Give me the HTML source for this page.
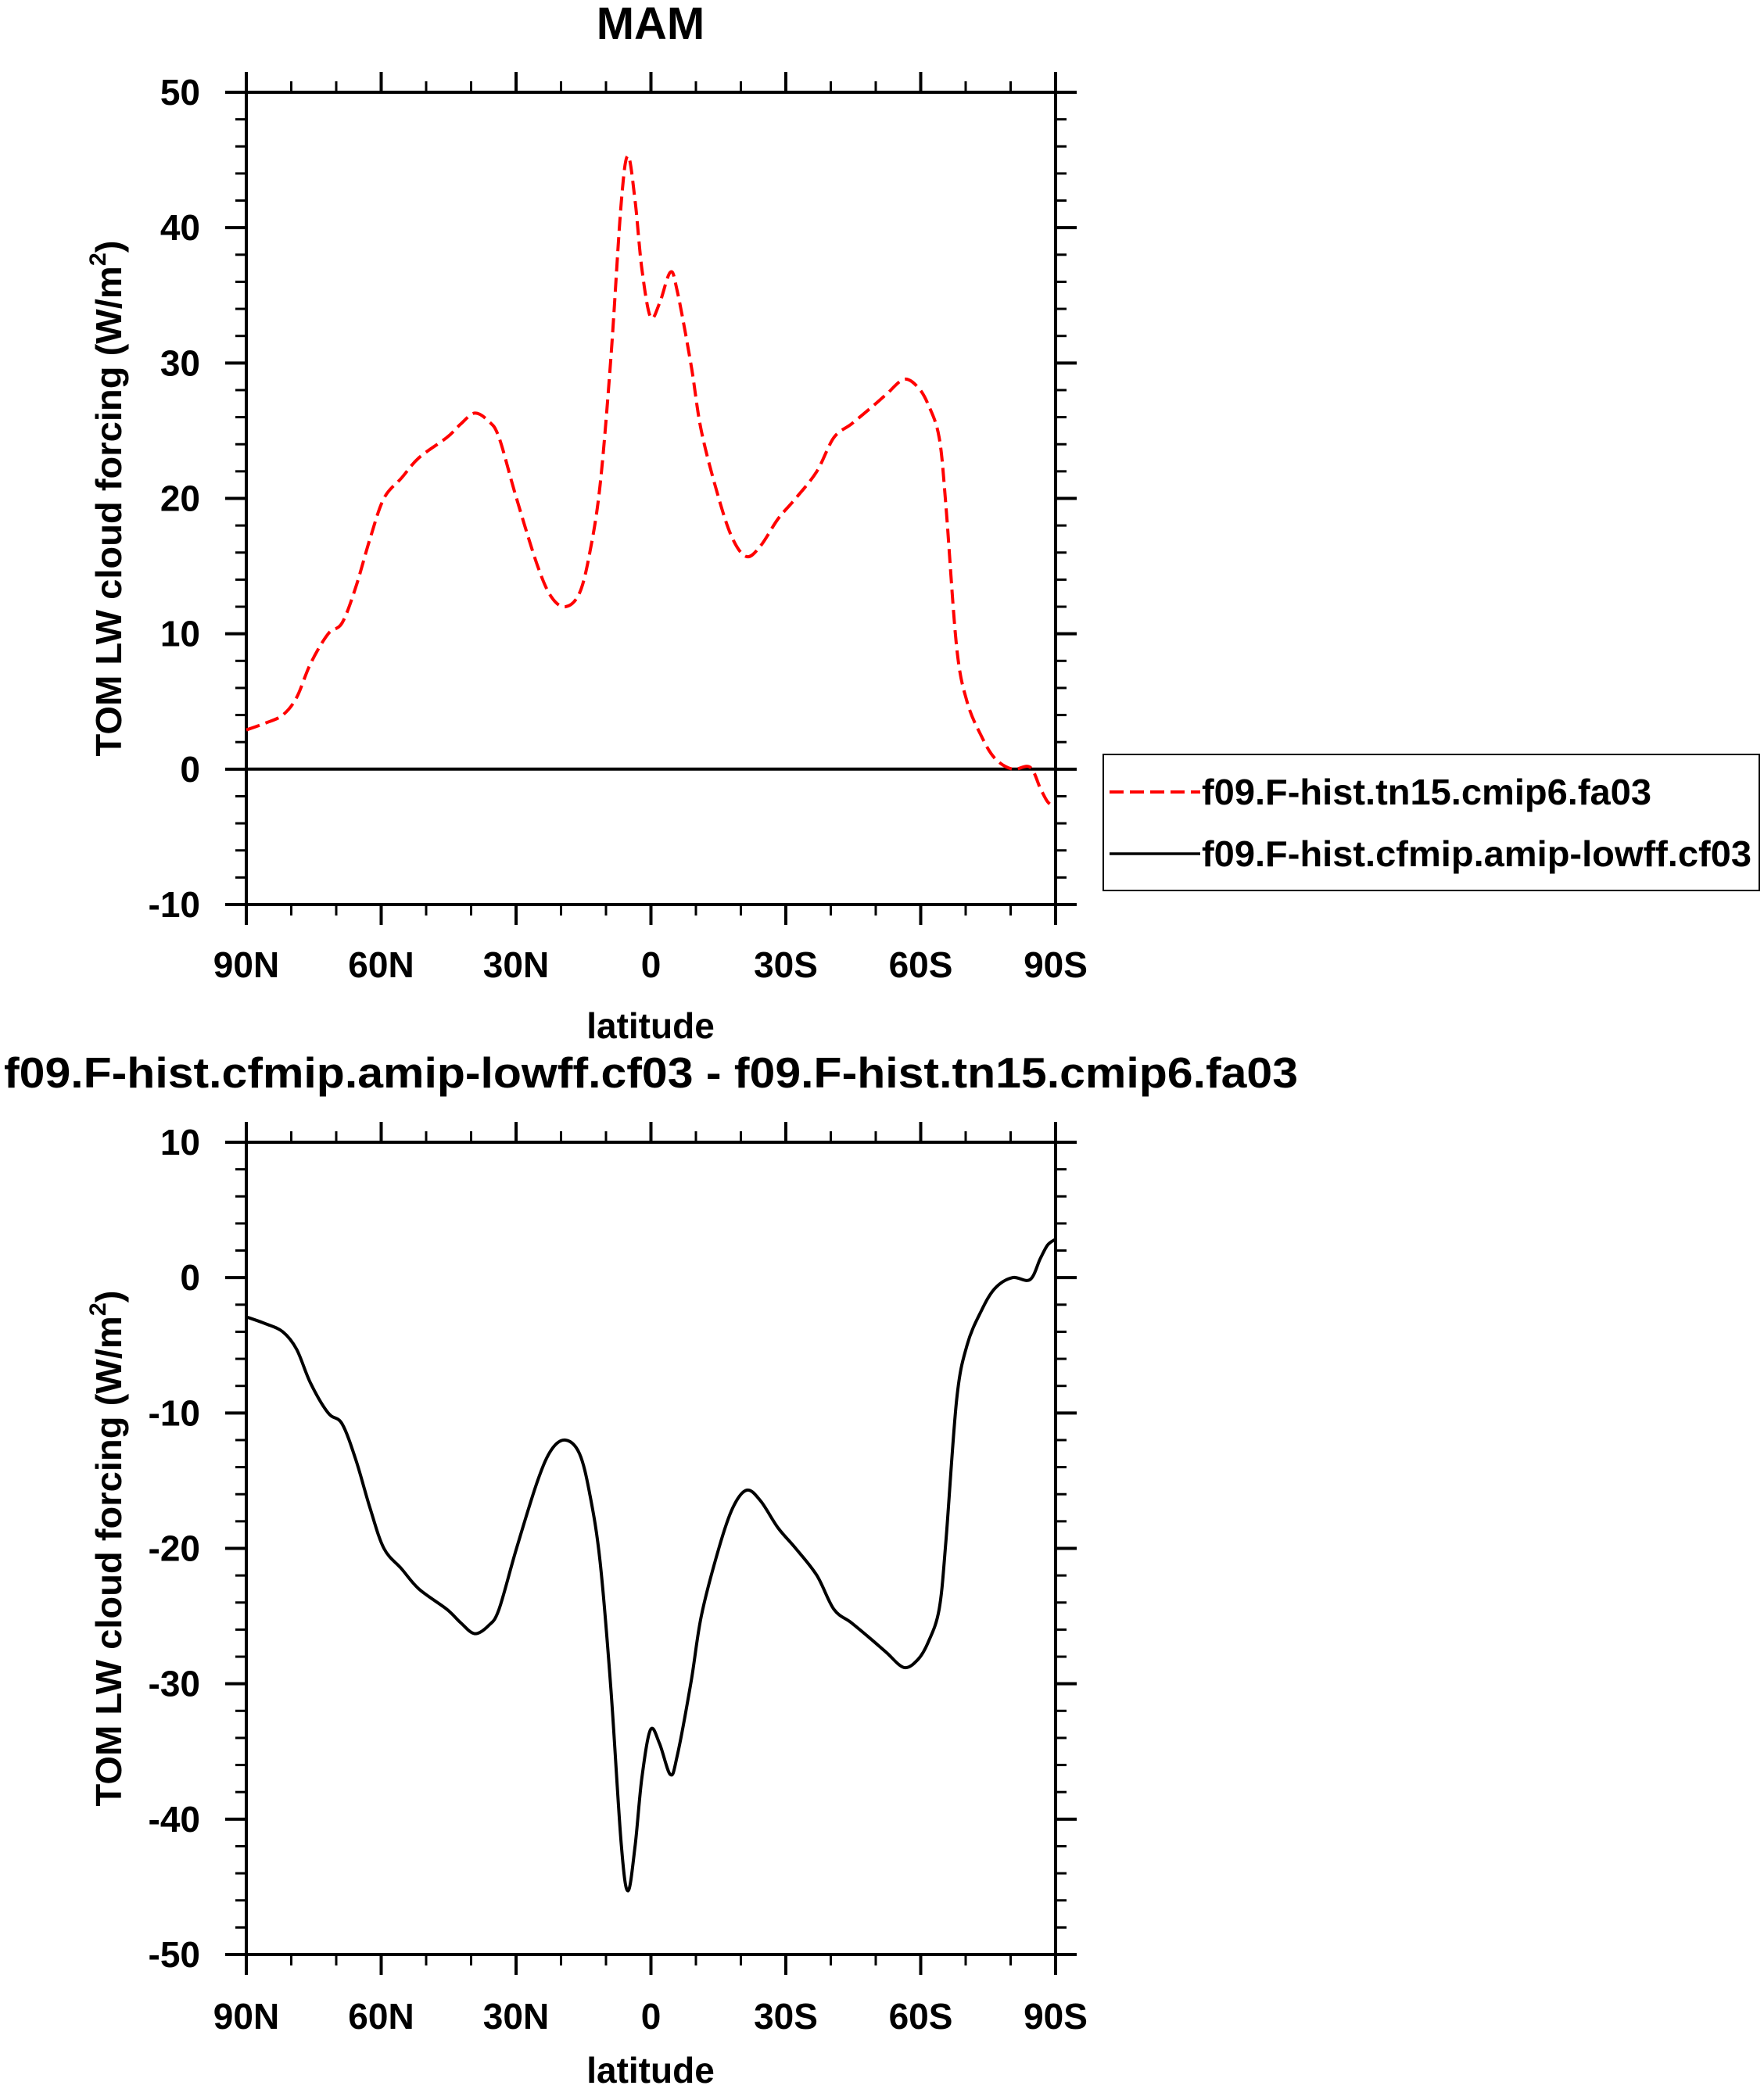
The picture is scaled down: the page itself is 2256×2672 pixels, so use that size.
<!DOCTYPE html>
<html><head><meta charset="utf-8">
<style>
html,body{margin:0;padding:0;background:#fff;}
svg{display:block;font-family:"Liberation Sans",Arial,sans-serif;font-weight:bold;}
</style></head>
<body>
<svg id="chart" width="2256" height="2672" viewBox="0 0 2256 2672" xmlns="http://www.w3.org/2000/svg">
<text x="832" y="50" font-size="58" text-anchor="middle">MAM</text>
<text x="5" y="1391" font-size="55" textLength="1655" lengthAdjust="spacingAndGlyphs">f09.F-hist.cfmip.amip-lowff.cf03 - f09.F-hist.tn15.cmip6.fa03</text>
<g id="top"></g>
<g id="bottom"></g>
<g>
  <rect x="1411" y="965" width="839" height="174" fill="#fff" stroke="#000" stroke-width="2"/>
  <line x1="1419" y1="1013" x2="1535" y2="1013" stroke="#ff0000" stroke-width="4" stroke-dasharray="18,8"/>
  <text x="1537" y="1029" font-size="46" textLength="575" lengthAdjust="spacingAndGlyphs">f09.F-hist.tn15.cmip6.fa03</text>
  <line x1="1419" y1="1092" x2="1535" y2="1092" stroke="#000" stroke-width="3.5"/>
  <text x="1537" y="1108" font-size="46" textLength="703" lengthAdjust="spacingAndGlyphs">f09.F-hist.cfmip.amip-lowff.cf03</text>
</g>
</svg>
<script>
const lats = [90,85.8,81.9,78.8,75.7,71.8,68.7,65.6,62.5,59.4,55.5,51.6,45.4,42.3,39.2,36.1,33.8,29.9,25.2,22.1,19.0,15.9,13.6,11.3,8.9,6.6,5.1,3.5,2.0,0.1,-1.9,-4.3,-5.8,-8.9,-11.2,-15.1,-18.2,-21.3,-24.4,-28.3,-32.2,-36.9,-40.7,-44.6,-49.3,-52.4,-56.3,-59.4,-61.7,-64.1,-65.6,-68.0,-70.3,-73.4,-76.5,-80.4,-84.3,-86.6,-88.2,-89.8];
const controlValues = [2.9,3.4,4.0,5.3,7.8,10.0,10.8,13.5,17.0,20.0,21.5,23.0,24.5,25.5,26.3,25.7,24.5,20.0,15.0,12.7,12.0,13.0,16.0,21.0,30.4,41.9,45.3,41.9,36.9,33.4,34.4,36.7,35.4,29.9,25.0,20.0,17.0,15.7,16.5,18.5,20.0,22.0,24.5,25.5,26.8,27.7,28.8,28.2,26.9,24.5,19.5,9.0,5.0,2.5,0.8,0.0,0.15,-1.4,-2.4,-2.8];
const experimentValues = [0,0,0,0,0,0,0,0,0,0,0,0,0,0,0,0,0,0,0,0,0,0,0,0,0,0,0,0,0,0,0,0,0,0,0,0,0,0,0,0,0,0,0,0,0,0,0,0,0,0,0,0,0,0,0,0,0,0,0,0];
const diffValues = [-2.9,-3.4,-4.0,-5.3,-7.8,-10.0,-10.8,-13.5,-17.0,-20.0,-21.5,-23.0,-24.5,-25.5,-26.3,-25.7,-24.5,-20.0,-15.0,-12.7,-12.0,-13.0,-16.0,-21.0,-30.4,-41.9,-45.3,-41.9,-36.9,-33.4,-34.4,-36.7,-35.4,-29.9,-25.0,-20.0,-17.0,-15.7,-16.5,-18.5,-20.0,-22.0,-24.5,-25.5,-26.8,-27.7,-28.8,-28.2,-26.9,-24.5,-19.5,-9.0,-5.0,-2.5,-0.8,0.0,-0.15,1.4,2.4,2.8];
const xTickVals = [90,60,30,0,-30,-60,-90];
const xTickLabels = ["90N","60N","30N","0","30S","60S","90S"];
const topYTicks = [50,40,30,20,10,0,-10];
const bottomYTicks = [10,0,-10,-20,-30,-40,-50];

const NS="http://www.w3.org/2000/svg";
function mk(parent,tag,attrs){const e=document.createElementNS(NS,tag);for(const k in attrs)e.setAttribute(k,attrs[k]);parent.appendChild(e);return e;}
function smoothPath(pts){
  let d="M"+pts[0][0].toFixed(1)+","+pts[0][1].toFixed(1);
  for(let i=0;i<pts.length-1;i++){
    const p0=pts[Math.max(0,i-1)],p1=pts[i],p2=pts[i+1],p3=pts[Math.min(pts.length-1,i+2)];
    const c1=[p1[0]+(p2[0]-p0[0])/6,p1[1]+(p2[1]-p0[1])/6];
    const c2=[p2[0]-(p3[0]-p1[0])/6,p2[1]-(p3[1]-p1[1])/6];
    d+=" C"+c1[0].toFixed(1)+","+c1[1].toFixed(1)+" "+c2[0].toFixed(1)+","+c2[1].toFixed(1)+" "+p2[0].toFixed(1)+","+p2[1].toFixed(1);
  }
  return d;
}
function panel(g,top,ymax,ymin,yTicks,series,labelY,latY){
  const L=315,R=1350,B=top+1039;
  const xs=v=>L+(90-v)/180*(R-L);
  const ys=v=>top+(ymax-v)/(ymax-ymin)*(B-top);
  // minor ticks
  for(let v=90;v>=-90;v-=10){
    const x=xs(v),major=(v%30===0);const len=major?26:14;
    const t1=mk(g,'line',{x1:x,y1:B,x2:x,y2:B+len,stroke:'#000','stroke-width':major?4:3});
    
    
    const t2=mk(g,'line',{x1:x,y1:top,x2:x,y2:top-len,stroke:'#000','stroke-width':major?4:3});
    
    
  }
  for(let v=ymin;v<=ymax+0.001;v+=2){
    const y=ys(v),major=(Math.round(v)%10===0);const len=major?27:14;
    const t1=mk(g,'line',{x1:L,y1:y,x2:L-len,y2:y,stroke:'#000','stroke-width':major?4:3});
    
    
    const t2=mk(g,'line',{x1:R,y1:y,x2:R+len,y2:y,stroke:'#000','stroke-width':major?4:3});
    
    
  }
  const fr=mk(g,'rect',{x:L,y:top,width:R-L,height:B-top,fill:'none',stroke:'#000','stroke-width':4});
  
  
  xTickVals.forEach((v,i)=>{
    const t=mk(g,'text',{x:xs(v),y:labelY,'font-size':46,'text-anchor':'middle'});
    t.textContent=xTickLabels[i];
    
    
  });
  yTicks.forEach(v=>{
    const t=mk(g,'text',{x:256,y:ys(v)+16,'font-size':46,'text-anchor':'end'});
    t.textContent=String(v);
    
    
  });
  const xt=mk(g,'text',{x:832,y:latY,'font-size':46,'text-anchor':'middle'});
  xt.textContent='latitude';
  
  
  const cy=(top+B)/2;
  const yt=mk(g,'text',{x:0,y:0,'font-size':46,'text-anchor':'middle',transform:'translate(155,'+cy+') rotate(-90)',textLength:660,lengthAdjust:'spacingAndGlyphs'});
  
  
  yt.innerHTML='TOM LW cloud forcing (W/m<tspan font-size="30" dy="-20">2</tspan><tspan dy="20">)</tspan>';
  series.forEach(s=>{
    const pts=lats.map((la,i)=>[xs(la),ys(s.vals[i])]);
    const p=mk(g,'path',{d:smoothPath(pts),fill:'none',stroke:s.color,'stroke-width':4,'stroke-linejoin':'round'});
    if(s.dash)p.setAttribute('stroke-dasharray',s.dash);
    
    
  });
}
panel(document.getElementById('top'),118,50,-10,topYTicks,[
  {vals:experimentValues,color:'#000',name:'experiment-line'},
  {vals:controlValues,color:'#ff0000',dash:'18,8',name:'control-line'}
],1250,1328);
panel(document.getElementById('bottom'),1461,10,-50,bottomYTicks,[
  {vals:diffValues,color:'#000',name:'difference-line'}
],2595,2664);
</script>
</body></html>
